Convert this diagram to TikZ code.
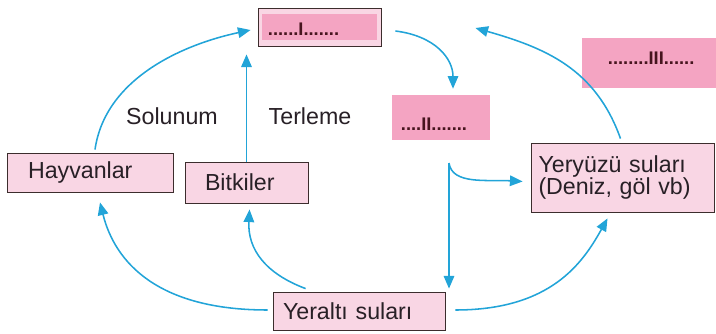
\documentclass[tikz,border=0pt]{standalone}
\usepackage{fontspec}
\setmainfont{Liberation Sans}
\usetikzlibrary{calc,arrows.meta}
\definecolor{flowblue}{RGB}{34,164,216}
\definecolor{boxpink}{RGB}{249,214,228}
\definecolor{hipink}{RGB}{244,164,194}
\definecolor{boxline}{RGB}{60,45,45}
\definecolor{inktext}{RGB}{40,32,38}
\definecolor{dotink}{RGB}{70,20,30}
\newcommand*{\HiPatch}[5]{% #1 = name, #2/#3 = centre, #4/#5 = size
\node [hilite, minimum width=#4, minimum height=#5] (#1) at (#2,#3) {};
}

\begin{document}
\begin{tikzpicture}[x=0.025cm,y=-0.025cm,
    box/.style={draw=boxline, line width=0.6pt, fill=boxpink, inner sep=0pt,
      text=inktext, align=left, font=\fontsize{16.5}{19}\selectfont},
    hilite/.style={fill=hipink, inner sep=0pt},
    blank/.style={text=dotink, font=\fontsize{13}{15}\selectfont\bfseries},
    lbl/.style={text=inktext, font=\fontsize{16.5}{19}\selectfont},
    flow/.style={draw=flowblue, line width=1.1pt, -{Triangle[length=9pt,width=7.5pt]}}]

            \useasboundingbox (0,0) rectangle (716,334);

            % boxes
            \node [box, minimum width=123*0.025cm, minimum height=38*0.025cm] (top) at (319.5,27) {};
            \node [hilite, minimum width=115*0.025cm, minimum height=26*0.025cm] (topmark) at (319.5,27) {};
            \node [blank, anchor=west] (topdots) at (263,29) {......I.......};

            \HiPatch{markII}{441}{117.5}{98*0.025cm}{45*0.025cm}
            \node [blank, anchor=west] (dotsII) at (396,124) {....II.......};
            \HiPatch{markIII}{649}{63}{134*0.025cm}{50*0.025cm}
            \node [blank, anchor=west] (dotsIII) at (603,58) {........III......};

            \node [box, minimum width=166*0.025cm, minimum height=39*0.025cm,
              text width=124*0.025cm] (hay) at (90,172.5) {Hayvanlar};
            \node [box, minimum width=123*0.025cm, minimum height=41*0.025cm,
              text width=83*0.025cm] (bit) at (246.5,182.5) {Bitkiler};
            \node [box, minimum width=183*0.025cm, minimum height=69*0.025cm,
              text width=168*0.025cm] (yer) at (622.5,177.5)
              {Yeryüzü suları\\[-3pt](Deniz, göl vb)};
            \node [box, minimum width=172*0.025cm, minimum height=38*0.025cm,
              text width=152*0.025cm] (yal) at (359,311) {Yeraltı suları};

            \node [lbl] (sol) at (172,116) {Solunum};
            \node [lbl] (ter) at (310,116) {Terleme};

            % arrows
            \coordinate (fork) at (449,163);
            \draw [flow] ($(hay.north)+(5,-3)$) .. controls +(10,-70) and +(-70,15) .. ($(top.west)+(-7,3)$);
            \draw [flow] (bit.north) -- ($(bit.north |- top.south)+(0,8)$);
            \draw [flow] ($(top.east)+(14,4)$) .. controls +(40,5) and +(0,-30) .. ($(markII.north)+(12,-6)$);
            \draw [flow] ($(yer.north)+(-2,-4)$) .. controls +(-25,-70) and +(70,20) .. ($(top.east)+(94,1)$);
            \draw [flow] (fork) -- ($(fork |- yal.north)+(0,-3)$);
            \draw [flow] (fork) .. controls +(3,22) and +(-35,-2) .. ($(yer.west)+(-8,4)$);
            \draw [flow] ($(yal.west)+(-5,-1)$) .. controls +(-110,0) and +(15,60) .. ($(hay.south)+(10,10)$);
            \draw [flow] ($(yal.north west)+(33,-3)$) .. controls +(-40,-15) and +(-2,40) .. ($(bit.south)+(3,6)$);
            \draw [flow] ($(yal.east)+(10,-1)$) .. controls +(95,0) and +(-25,45) .. ($(yer.south)+(-15,6)$);
        \end{tikzpicture}
\end{document}
